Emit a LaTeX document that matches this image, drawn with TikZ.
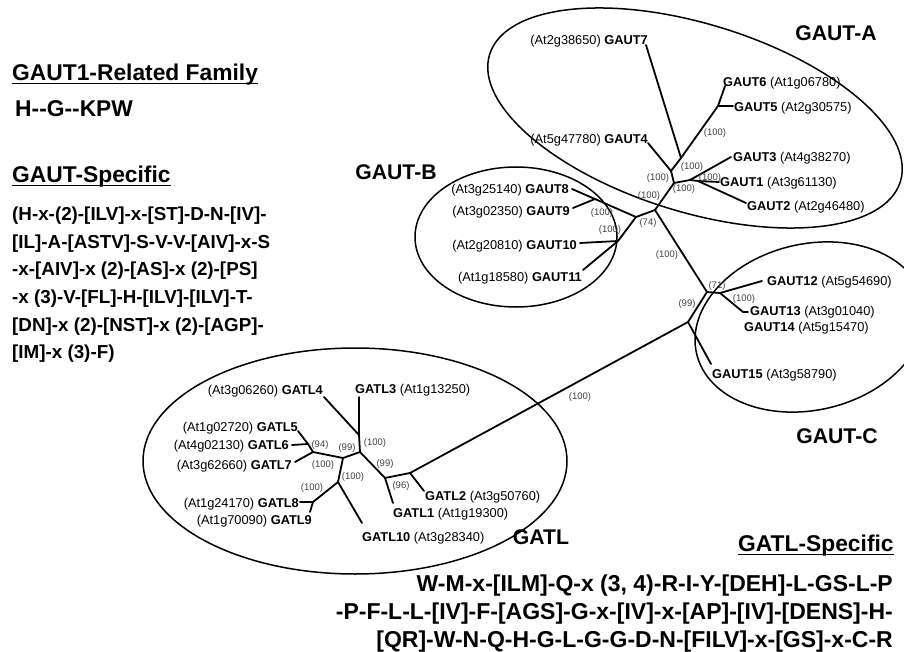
\documentclass[tikz,border=0pt]{standalone}
\usepackage{fontspec}
\setmainfont{Liberation Sans}
\begin{document}
\begin{tikzpicture}[x=1pt,y=-1pt,
  br/.style={line width=1.8pt, line cap=round},
  ell/.style={line width=1.5pt},
  lab/.style={inner sep=0pt, font=\fontsize{12.8}{14}\selectfont, text height=9.2pt, text depth=0pt},
  bs/.style={inner sep=0pt, font=\fontsize{9.5}{10}\selectfont, text=black!75},
  grp/.style={inner sep=0pt, font=\fontsize{21.2}{24}\selectfont\bfseries, text height=15.2pt, text depth=0pt},
  hdr/.style={inner sep=0pt, anchor=west, font=\fontsize{22.8}{26}\selectfont\bfseries, text height=16.3pt, text depth=0pt},
  seqL/.style={inner sep=0pt, anchor=west, font=\fontsize{18.8}{22}\selectfont\bfseries, text height=13.5pt, text depth=0pt},
  seqR/.style={inner sep=0pt, anchor=east, font=\fontsize{23}{26}\selectfont\bfseries, text height=16.5pt, text depth=0pt},
  uline/.style={line width=1.5pt}
]
\useasboundingbox (0,0) rectangle (904,652);

% ---------- ellipses ----------
\draw[ell, rotate around={-17.2:(695,118)}] (695,118) ellipse [x radius=215pt, y radius=94pt];
\draw[ell] (516,237) ellipse [x radius=101pt, y radius=70pt];
\draw[ell, rotate around={13.3:(810,327)}] (810,327) ellipse [x radius=116.5pt, y radius=83pt];
\draw[ell] (355,461) ellipse [x radius=212pt, y radius=113pt];

% ---------- tree coordinates ----------
% GAUT-A
\coordinate (a7) at (646,45);
\coordinate (a6) at (725,86);
\coordinate (a5) at (733,106);
\coordinate (n56) at (718,106);
\coordinate (n7) at (681,158);
\coordinate (a4) at (648,143);
\coordinate (nA) at (671,171);
\coordinate (nB) at (674,183);
\coordinate (n123) at (690,180);
\coordinate (a3) at (731,157);
\coordinate (n12) at (698,181);
\coordinate (a1) at (719,182);
\coordinate (a2) at (746,203);
\coordinate (R) at (655,210);
% GAUT-B
\coordinate (nB1) at (636,217);
\coordinate (n89) at (595,199);
\coordinate (a8) at (572,189);
\coordinate (a9) at (573,208);
\coordinate (n1011) at (618,241);
\coordinate (a10) at (580,243);
\coordinate (a11) at (583,270);
% GAUT-C
\coordinate (c1) at (707,292);
\coordinate (c2) at (720,293);
\coordinate (a12) at (762,281);
\coordinate (n1314) at (743,312);
\coordinate (a13) at (748,312);
\coordinate (c3) at (688,322);
\coordinate (a15) at (711,364);
% GATL
\coordinate (G1) at (410,473);
\coordinate (at2) at (424,491);
\coordinate (G2) at (385,478);
\coordinate (at1) at (393,503);
\coordinate (G3) at (360,452);
\coordinate (G4) at (359,435);
\coordinate (at3) at (359,397);
\coordinate (at4) at (324,397);
\coordinate (G5) at (343,458);
\coordinate (G6) at (313,452);
\coordinate (at7) at (295,462);
\coordinate (G6b) at (308,444);
\coordinate (at5) at (298,431);
\coordinate (at6) at (292,445);
\coordinate (G7) at (338,482);
\coordinate (at10) at (362,523);
\coordinate (G8) at (313,502);
\coordinate (at8) at (300,502);
\coordinate (at9) at (310,512);

% ---------- branches ----------
\draw[br] (n7) -- (a7);
\draw[br] (n7) -- (n56);
\draw[br] (n56) -- (a6);
\draw[br] (n56) -- (a5);
\draw[br] (n7) -- (nA);
\draw[br] (nA) -- (a4);
\draw[br] (nA) -- (nB);
\draw[br] (nB) -- (n123);
\draw[br] (n123) -- (a3);
\draw[br] (n123) -- (n12);
\draw[br] (n12) -- (a1);
\draw[br] (n12) -- (a2);
\draw[br] (nB) -- (R);
\draw[br] (R) -- (nB1);
\draw[br] (nB1) -- (n89);
\draw[br] (n89) -- (a8);
\draw[br] (n89) -- (a9);
\draw[br] (nB1) -- (n1011);
\draw[br] (n1011) -- (a10);
\draw[br] (n1011) -- (a11);
\draw[br] (R) -- (c1);
\draw[br] (c1) -- (c2);
\draw[br] (c2) -- (a12);
\draw[br] (c2) -- (n1314);
\draw[br] (n1314) -- (a13);
\draw[br] (c1) -- (c3);
\draw[br] (c3) -- (a15);
\draw[br] (c3) -- (G1);
\draw[br] (G1) -- (at2);
\draw[br] (G1) -- (G2);
\draw[br] (G2) -- (at1);
\draw[br] (G2) -- (G3);
\draw[br] (G3) -- (G4);
\draw[br] (G4) -- (at3);
\draw[br] (G4) -- (at4);
\draw[br] (G3) -- (G5);
\draw[br] (G5) -- (G6);
\draw[br] (G6) -- (at7);
\draw[br] (G6) -- (G6b);
\draw[br] (G6b) -- (at5);
\draw[br] (G6b) -- (at6);
\draw[br] (G5) -- (G7);
\draw[br] (G7) -- (at10);
\draw[br] (G7) -- (G8);
\draw[br] (G8) -- (at8);
\draw[br] (G8) -- (at9);

% ---------- leaf labels ----------
\node[lab, anchor=east] (l7) at (648,40) {(At2g38650) \textbf{GAUT7}};
\node[lab, anchor=west] (l6) at (723,82) {\textbf{GAUT6} (At1g06780)};
\node[lab, anchor=west] (l5) at (734,107) {\textbf{GAUT5} (At2g30575)};
\node[lab, anchor=east] (l4) at (648,139) {(At5g47780) \textbf{GAUT4}};
\node[lab, anchor=west] (l3) at (733,157) {\textbf{GAUT3} (At4g38270)};
\node[lab, anchor=west] (l1) at (720,182) {\textbf{GAUT1} (At3g61130)};
\node[lab, anchor=west] (l2) at (747,206) {\textbf{GAUT2} (At2g46480)};
\node[lab, anchor=east] (l8) at (569,189) {(At3g25140) \textbf{GAUT8}};
\node[lab, anchor=east] (l9) at (570,211) {(At3g02350) \textbf{GAUT9}};
\node[lab, anchor=east] (l10) at (577,245) {(At2g20810) \textbf{GAUT10}};
\node[lab, anchor=east] (l11) at (582,277) {(At1g18580) \textbf{GAUT11}};
\node[lab, anchor=west] (l12) at (767,281) {\textbf{GAUT12} (At5g54690)};
\node[lab, anchor=west] (l13) at (750,311) {\textbf{GAUT13} (At3g01040)};
\node[lab, anchor=west] (l14) at (744,327) {\textbf{GAUT14} (At5g15470)};
\node[lab, anchor=west] (l15) at (712,374) {\textbf{GAUT15} (At3g58790)};
\node[lab, anchor=east] (tl4) at (323,390) {(At3g06260) \textbf{GATL4}};
\node[lab, anchor=west] (tl3) at (355,389) {\textbf{GATL3} (At1g13250)};
\node[lab, anchor=east] (tl5) at (298,427) {(At1g02720) \textbf{GATL5}};
\node[lab, anchor=east] (tl6) at (289,445) {(At4g02130) \textbf{GATL6}};
\node[lab, anchor=east] (tl7) at (292,465) {(At3g62660) \textbf{GATL7}};
\node[lab, anchor=east] (tl8) at (299,503) {(At1g24170) \textbf{GATL8}};
\node[lab, anchor=east] (tl9) at (312,520) {(At1g70090) \textbf{GATL9}};
\node[lab, anchor=west] (tl10) at (362,537) {\textbf{GATL10} (At3g28340)};
\node[lab, anchor=west] (tl1) at (393,513) {\textbf{GATL1} (At1g19300)};
\node[lab, anchor=west] (tl2) at (425,496) {\textbf{GATL2} (At3g50760)};

% ---------- bootstrap values ----------
\node[bs] (b1) at (715,133) {(100)};
\node[bs] (b2) at (692,167) {(100)};
\node[bs] (b3) at (658,178) {(100)};
\node[bs] (b4) at (710,178) {(100)};
\node[bs] (b5) at (684,189) {(100)};
\node[bs] (b6) at (649,196) {(100)};
\node[bs] (b7) at (648,223) {(74)};
\node[bs] (b8) at (602,213) {(100)};
\node[bs] (b9) at (610,230) {(100)};
\node[bs] (b10) at (667,255) {(100)};
\node[bs] (b11) at (717,286) {(71)};
\node[bs] (b12) at (744,299) {(100)};
\node[bs] (b13) at (687,304) {(99)};
\node[bs] (b14) at (580,397) {(100)};
\node[bs] (b15) at (320,445) {(94)};
\node[bs] (b16) at (323,465) {(100)};
\node[bs] (b17) at (347,448) {(99)};
\node[bs] (b18) at (375,443) {(100)};
\node[bs] (b19) at (353,477) {(100)};
\node[bs] (b20) at (312,488) {(100)};
\node[bs] (b21) at (385,464) {(99)};
\node[bs] (b22) at (401,486) {(96)};

% ---------- group labels ----------
\node[grp] (gA) at (836,33) {GAUT-A};
\node[grp] (gB) at (396,172) {GAUT-B};
\node[grp] (gC) at (837,436) {GAUT-C};
\node[grp] (gL) at (541,537) {GATL};

% ---------- left texts ----------
\node[hdr] (h1) at (12,72) {GAUT1-Related Family};
\draw[uline] ([yshift=-11.5pt]h1.west) -- ([yshift=-11.5pt]h1.east);
\node[hdr] (h2) at (15,108) {H-{}-G-{}-KPW};
\node[hdr] (h3) at (12,174) {GAUT-Specific};
\draw[uline] ([yshift=-11.5pt]h3.west) -- ([yshift=-11.5pt]h3.east);
\node[seqL] (s1) at (12,214) {(H-x-(2)-[ILV]-x-[ST]-D-N-[IV]-};
\node[seqL] (s2) at (12,241.6) {[IL]-A-[ASTV]-S-V-V-[AIV]-x-S};
\node[seqL] (s3) at (12,269.2) {-x-[AIV]-x (2)-[AS]-x (2)-[PS]};
\node[seqL] (s4) at (12,296.8) {-x (3)-V-[FL]-H-[ILV]-[ILV]-T-};
\node[seqL] (s5) at (12,324.4) {[DN]-x (2)-[NST]-x (2)-[AGP]-};
\node[seqL] (s6) at (12,352) {[IM]-x (3)-F)};

% ---------- GATL specific ----------
\node[hdr] (h4) at (738,543) {GATL-Specific};
\draw[uline] ([yshift=-11.5pt]h4.west) -- ([yshift=-11.5pt]h4.east);
\node[seqR] (t1) at (893,583) {W-M-x-[ILM]-Q-x (3, 4)-R-I-Y-[DEH]-L-GS-L-P};
\node[seqR] (t2) at (893,611) {-P-F-L-L-[IV]-F-[AGS]-G-x-[IV]-x-[AP]-[IV]-[DENS]-H-};
\node[seqR] (t3) at (893,639) {[QR]-W-N-Q-H-G-L-G-G-D-N-[FILV]-x-[GS]-x-C-R};
\end{tikzpicture}
\end{document}
